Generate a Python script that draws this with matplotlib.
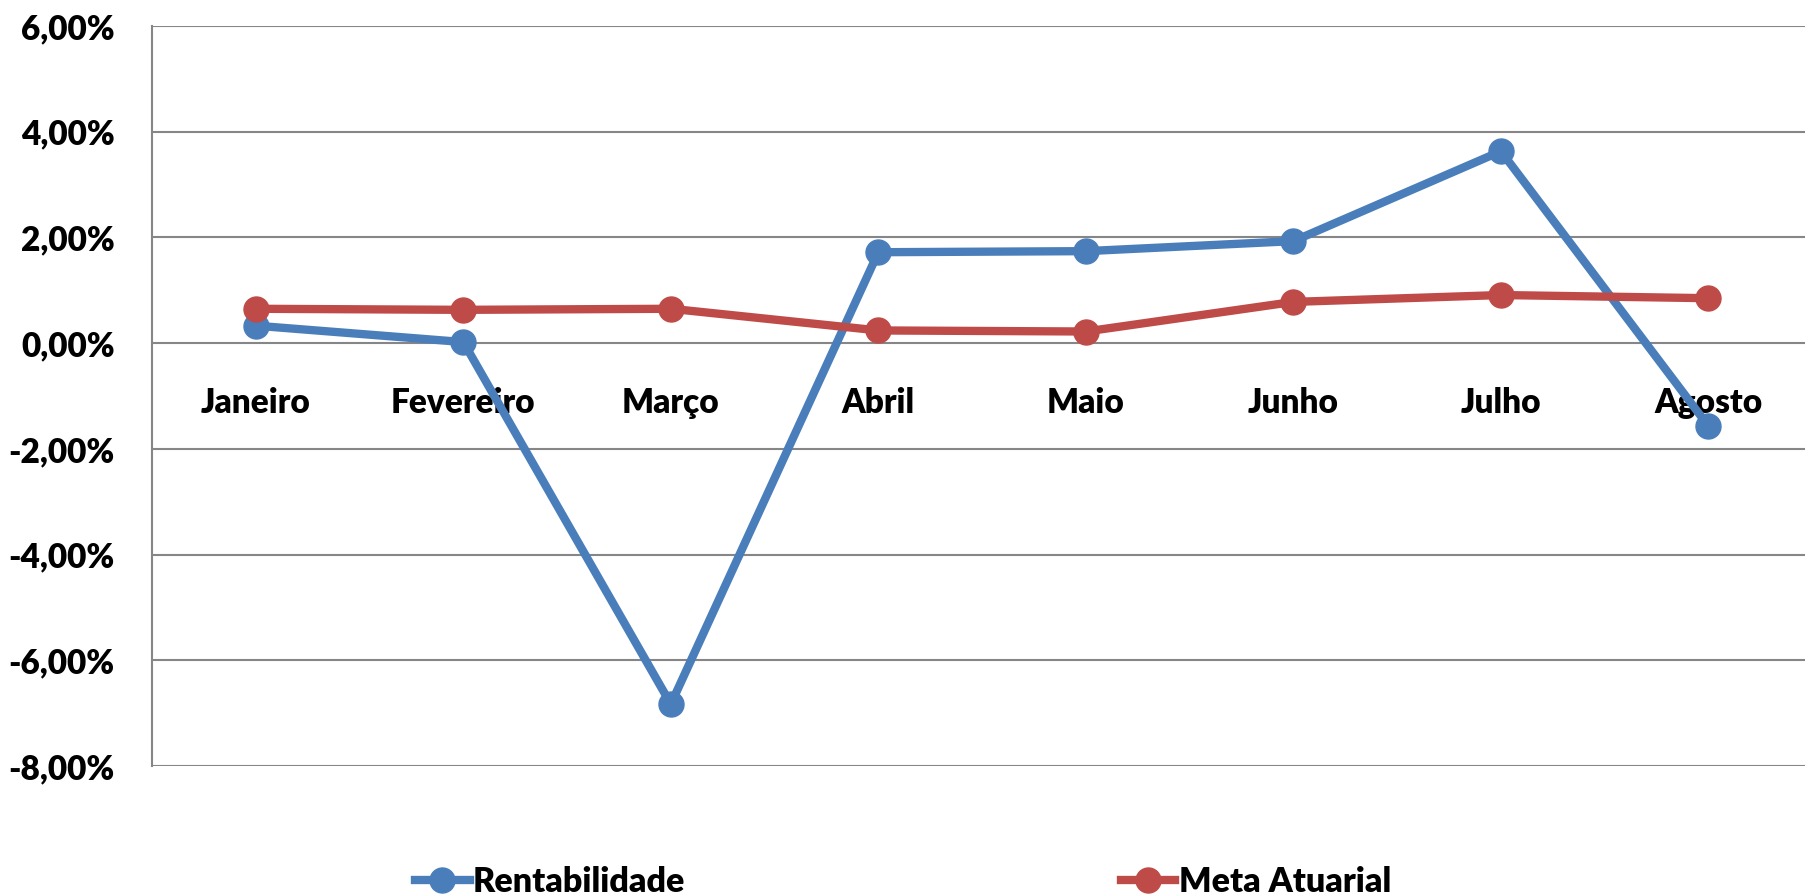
import matplotlib
matplotlib.use("Agg")
import matplotlib.pyplot as plt
from matplotlib.ticker import FuncFormatter

months = ["Janeiro", "Fevereiro", "Março", "Abril", "Maio", "Junho", "Julho", "Agosto"]
rentabilidade = [0.33, 0.02, -6.83, 1.72, 1.74, 1.93, 3.63, -1.57]
meta_atuarial = [0.65, 0.63, 0.65, 0.24, 0.22, 0.78, 0.91, 0.85]
yticks = [-8, -6, -4, -2, 0, 2, 4, 6]

plt.rcParams['font.family'] = ['Lato', 'DejaVu Sans']
plt.rcParams['font.weight'] = 'bold'

fig = plt.figure(figsize=(18.06, 8.96), dpi=100)
ax = fig.add_axes([0.0842, 0.1451, 0.9158, 0.8259])

blue = "#4A7EBB"
red = "#BE4B48"
x = list(range(len(months)))
ax.plot(x, rentabilidade, color=blue, lw=6, marker='o', ms=18, label="Rentabilidade", zorder=3)
ax.plot(x, meta_atuarial, color=red, lw=6, marker='o', ms=18, label="Meta Atuarial", zorder=4)

ax.set_ylim(-8, 6)
ax.set_xlim(-0.5, 7.47)
ax.set_yticks(yticks)
ax.yaxis.set_major_formatter(FuncFormatter(lambda v, p: f"{v:.2f}%".replace(".", ",")))
ax.tick_params(axis='y', length=0, pad=27, labelsize=24)
ax.set_xticks([])
ax.grid(axis='y', color="#868686", lw=1.5)
ax.set_axisbelow(True)
for s in ['top', 'right', 'bottom']:
    ax.spines[s].set_visible(False)
ax.spines['left'].set_color("#868686")
ax.spines['left'].set_linewidth(1.5)
for lab in ax.get_yticklabels():
    lab.set_fontweight('heavy')

for i, m in enumerate(months):
    ax.text(i, -1.14, m, ha='center', va='center', fontsize=24, fontweight='heavy', zorder=2)

leg = fig.legend(loc='center', bbox_to_anchor=(0.5, 0.016), ncol=2, frameon=False,
                 handlelength=1.6, handletextpad=0.1, columnspacing=12.8,
                 prop={'weight': 'heavy', 'size': 24.5})

fig.savefig("out.png", dpi=100)
